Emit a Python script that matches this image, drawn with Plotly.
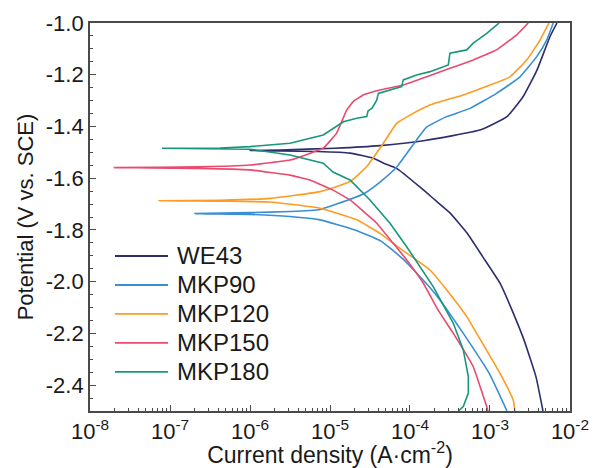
import plotly.graph_objects as go

# ---- data (current density A/cm2, potential V vs SCE) ----
series_names = ["WE43", "MKP90", "MKP120", "MKP150", "MKP180"]

WE43_I = [4.60e-3, 3.76e-3, 2.66e-3, 1.88e-3, 1.33e-3, 8.18e-4, 5.16e-4, 3.16e-4, 2.05e-4, 1.33e-4,
          6.82e-5, 4.60e-5, 3.48e-5, 1.78e-5, 6.88e-6, 2.37e-6, 1.0e-6, 2.37e-6, 1.155e-5, 4.22e-5,
          1.54e-4, 7.50e-4, 1.63e-3, 2.59e-3, 3.87e-3, 5.62e-3, 6.88e-3]
WE43_E = [-2.50, -2.368, -2.225, -2.109, -2.005, -1.905, -1.812, -1.734, -1.684, -1.634,
          -1.562, -1.541, -1.523, -1.503, -1.497, -1.495, -1.493, -1.491, -1.484, -1.474,
          -1.454, -1.414, -1.362, -1.285, -1.182, -1.053, -1.0]

MKP90_I = [1.63e-3, 9.72e-4, 4.60e-4, 3.35e-4, 2.37e-4, 1.73e-4, 8.41e-5, 4.34e-5, 2.05e-5, 7.50e-6,
           3.16e-6, 1.0e-6, 2.05e-7, 1.0e-6, 3.16e-6, 7.50e-6, 1.21e-5, 2.61e-5, 4.22e-5, 6.82e-5,
           1.21e-4, 1.62e-4, 2.88e-4, 5.62e-4, 1.21e-3, 2.37e-3, 3.84e-3, 5.12e-3, 6.18e-3]
MKP90_E = [-2.50, -2.353, -2.198, -2.136, -2.071, -2.019, -1.916, -1.843, -1.800, -1.761,
           -1.748, -1.740, -1.737, -1.733, -1.729, -1.721, -1.700, -1.661, -1.615, -1.557,
           -1.452, -1.402, -1.362, -1.330, -1.272, -1.208, -1.130, -1.066, -1.0]

MKP120_I = [2.05e-3, 1.95e-3, 1.33e-3, 6.82e-4, 5.12e-4, 2.88e-4, 1.78e-4, 7.50e-5, 4.22e-5, 2.16e-5,
            7.50e-6, 1.78e-6, 4.22e-7, 7.29e-8, 4.22e-7, 1.78e-6, 7.50e-6, 1.78e-5, 2.88e-5, 4.64e-5,
            6.82e-5, 1.0e-4, 1.78e-4, 4.64e-4, 1.0e-3, 1.78e-3, 2.88e-3, 4.22e-3, 5.46e-3]
MKP120_E = [-2.50, -2.457, -2.354, -2.200, -2.135, -2.032, -1.955, -1.871, -1.813, -1.761,
            -1.716, -1.692, -1.689, -1.687, -1.685, -1.678, -1.652, -1.613, -1.555, -1.465,
            -1.388, -1.356, -1.317, -1.278, -1.240, -1.208, -1.143, -1.066, -1.0]

MKP150_I = [9.44e-4, 9.10e-4, 6.18e-4, 3.48e-4, 2.24e-4, 1.47e-4, 9.10e-5, 6.18e-5, 3.84e-5, 1.78e-5,
            1.09e-5, 5.62e-6, 3.16e-6, 1.0e-6, 2.37e-7, 2.0e-8, 2.37e-7, 1.0e-6, 3.16e-6, 8.24e-6,
            1.21e-5, 1.62e-5, 1.95e-5, 2.61e-5, 4.22e-5, 8.24e-5, 1.62e-4, 3.16e-4, 6.18e-4, 1.21e-3,
            2.16e-3, 3.01e-3]
MKP150_E = [-2.50, -2.483, -2.329, -2.200, -2.109, -2.006, -1.916, -1.852, -1.774, -1.684,
            -1.646, -1.607, -1.588, -1.568, -1.562, -1.559, -1.556, -1.549, -1.530, -1.484,
            -1.426, -1.336, -1.304, -1.278, -1.259, -1.240, -1.208, -1.175, -1.143, -1.104,
            -1.046, -1.0]

MKP180_I = [4.02e-4, 4.64e-4, 5.36e-4, 5.36e-4, 4.64e-4, 3.48e-4, 1.95e-4, 1.10e-4, 9.10e-5, 5.62e-5,
            3.16e-5, 1.78e-5, 1.09e-5, 8.24e-6, 3.16e-6, 1.0e-6, 4.22e-7, 7.94e-8, 4.22e-7, 1.0e-6,
            3.16e-6, 8.24e-6, 1.47e-5, 2.16e-5, 2.88e-5, 2.99e-5, 3.35e-5, 3.84e-5, 4.02e-5, 7.87e-5,
            8.24e-5, 1.21e-4, 1.78e-4, 3.01e-4, 3.16e-4, 5.12e-4, 6.18e-4, 9.10e-4, 1.21e-3, 1.30e-3]
MKP180_E = [-2.50, -2.483, -2.431, -2.367, -2.264, -2.161, -2.019, -1.903, -1.865, -1.774,
            -1.684, -1.607, -1.576, -1.542, -1.510, -1.488, -1.486, -1.484, -1.483, -1.478,
            -1.465, -1.433, -1.382, -1.368, -1.362, -1.340, -1.329, -1.298, -1.272, -1.246,
            -1.220, -1.201, -1.188, -1.162, -1.117, -1.104, -1.078, -1.040, -1.008, -1.0]

x_tick_vals = [1e-8, 1e-7, 1e-6, 1e-5, 1e-4, 1e-3, 1e-2]
x_tick_text = ["10<sup>-8</sup>", "10<sup>-7</sup>", "10<sup>-6</sup>", "10<sup>-5</sup>",
               "10<sup>-4</sup>", "10<sup>-3</sup>", "10<sup>-2</sup>"]
y_tick_vals = [-2.4, -2.2, -2.0, -1.8, -1.6, -1.4, -1.2, -1.0]
y_tick_text = ["-2.4", "-2.2", "-2.0", "-1.8", "-1.6", "-1.4", "-1.2", "-1.0"]

# ---- styling ----
colors = ["#2c2f6b", "#3a8fd4", "#ff9b21", "#e94a6e", "#17977c"]
smoothing = [0.4, 0.4, 0.4, 0.25, 0.0]
FONT = "Liberation Sans, Arial, sans-serif"
TXT = "#1a1a1a"

data = [(WE43_I, WE43_E), (MKP90_I, MKP90_E), (MKP120_I, MKP120_E),
        (MKP150_I, MKP150_E), (MKP180_I, MKP180_E)]

fig = go.Figure()
for name, (xi, ye), c, sm in zip(series_names, data, colors, smoothing):
    line = dict(color=c, width=1.6)
    if sm > 0:
        line.update(shape="spline", smoothing=sm)
    fig.add_trace(go.Scatter(x=xi, y=ye, mode="lines", name=name, line=line, showlegend=False))

# ---- legend drawn in paper coordinates (line sample + label) ----
leg_x0, leg_x1, leg_tx = 0.052, 0.1625, 0.177
leg_top, leg_step = 0.3995, 0.0747
for k, (name, c) in enumerate(zip(series_names, colors)):
    yy = leg_top - k * leg_step
    fig.add_shape(type="line", xref="paper", yref="paper",
                  x0=leg_x0, x1=leg_x1, y0=yy, y1=yy,
                  line=dict(color=c, width=1.8))
    fig.add_annotation(xref="paper", yref="paper", x=leg_tx, y=yy,
                       xanchor="left", yanchor="middle", showarrow=False,
                       text=name, font=dict(family=FONT, size=24, color=TXT))

axis_common = dict(
    showline=True, linecolor="#4a4a4a", linewidth=1.8, mirror=True,
    ticks="inside", tickcolor="#4a4a4a", tickwidth=1.2,
    showgrid=False, zeroline=False, automargin=False,
)

fig.update_xaxes(
    type="log", range=[-8.0005, -1.9995],
    tickvals=x_tick_vals, ticktext=x_tick_text,
    ticklen=6, tickfont=dict(family=FONT, size=22, color=TXT),
    minor=dict(ticks="inside", ticklen=3, tickcolor="#4a4a4a", dtick="D1", showgrid=False),
    title=dict(text="Current density (A·cm<sup>-2</sup>)",
               font=dict(family=FONT, size=23, color=TXT), standoff=4),
    **axis_common,
)
fig.update_yaxes(
    range=[-2.5, -1.0], tickvals=y_tick_vals, ticktext=y_tick_text,
    ticklen=6, tickfont=dict(family=FONT, size=22, color=TXT),
    minor=dict(ticks="inside", ticklen=3, tickcolor="#4a4a4a", dtick=0.05, showgrid=False),
    title=dict(text="Potential (V vs. SCE)",
               font=dict(family=FONT, size=22, color=TXT), standoff=6),
    **axis_common,
)

fig.update_layout(
    width=593, height=468,
    margin=dict(l=90, r=23, t=23, b=57),
    paper_bgcolor="white", plot_bgcolor="white",
    showlegend=False,
)

fig.write_html("out.html")
